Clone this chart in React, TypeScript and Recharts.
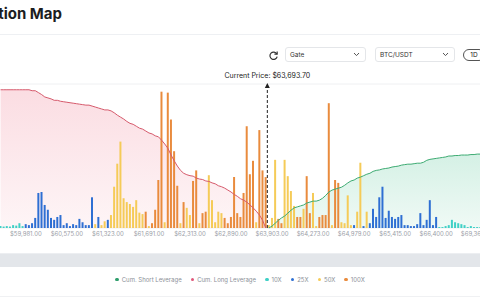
import React from "react";
import {
  Area,
  Bar,
  CartesianGrid,
  Cell,
  ComposedChart,
  Line,
  ReferenceLine,
  XAxis,
  YAxis,
} from "recharts";

const FONT = "Inter, 'Noto Sans', Roboto, sans-serif";

// liquidation volume per price bucket (low price -> high price)
const liqVolume = [
  2, 1.5, 2, 1.5, 3, 2.5, 5, 2,
  4, 3, 5, 10.5, 36.5, 37.5, 24, 19, 10.5, 8.5, 11.5, 13.5, 3, 5, 2, 4, 3, 9.5, 6, 3, 3, 32,
  4, 11.5, 3, 7, 8.5, 13.5, 43, 67, 90, 31, 27, 25, 22, 29, 16, 14.5, 17, 2, 5, 19,
  50, 142, 6, 141, 113, 80, 44, 5, 27, 21, 13.5, 49, 60, 5, 15.5, 17, 55, 29, 6, 17,
  15.5, 10.5, 5, 11.5, 53, 15.5, 11.5, 36.5, 106, 56, 70, 6, 102, 60, 53,
  3, 10.5, 71, 9.5, 5, 71, 54, 38.5, 23, 11.5, 11.5, 20, 54, 15.5, 36.5, 2, 11.5, 13.5, 13.5,
  130, 3, 50, 47, 6, 5, 34, 3, 3, 17, 68, 2, 17, 5, 20, 11.5, 32, 43, 10.5, 18,
  11.5, 9.5, 11.5, 13.5, 3, 3, 2, 2, 4, 15.5, 3, 8.5, 29, 3, 11.5,
  1, 1, 2, 3, 8.5, 6, 5, 4, 3, 1, 2, 1, 1, 1,
];

// leverage tier of each bucket
const leverage = [
  10, 10, 10, 10, 10, 10, 10, 10,
  25, 25, 25, 25, 25, 25, 25, 25, 25, 25, 25, 25, 25, 25, 25, 25, 25, 25, 25, 25, 25, 25,
  50, 25, 50, 50, 25, 50, 50, 50, 50, 50, 50, 50, 50, 50, 50, 50, 100, 50, 100, 100,
  100, 100, 50, 100, 100, 100, 100, 50, 100, 50, 50, 100, 100, 50, 100, 100, 50, 50, 50, 50,
  50, 100, 100, 100, 100, 100, 100, 100, 100, 100, 100, 50, 100, 100, 100,
  50, 50, 50, 100, 100, 50, 50, 50, 50, 100, 100, 50, 100, 100, 50, 50, 100, 100, 100,
  100, 50, 100, 100, 50, 50, 50, 50, 25, 50, 50, 25, 50, 25, 25, 25, 25, 25, 25, 25,
  25, 25, 25, 25, 25, 25, 25, 25, 25, 25, 25, 25, 25, 25, 25,
  10, 10, 10, 10, 10, 10, 10, 10, 10, 10, 10, 10, 10, 10,
];

// cumulative long liquidations, from the lowest bucket up to the current price
const cumLong = [
  144, 144, 144, 144, 144, 144, 144, 144, 144, 144,
  143, 143, 141, 139, 136.5, 135.5, 134.5, 133, 133, 132,
  131.5, 131, 130.5, 130, 129.5, 129, 128.5, 128, 128, 127,
  126, 125, 124, 123, 123, 122, 120, 117.5, 115.5, 113.5,
  111, 109, 108, 106, 104, 103, 101, 99, 98, 96,
  95, 91.5, 87.5, 83, 76, 70, 64.5, 60, 57, 55.5,
  54.5, 54, 52, 51, 50.5, 49, 48.5, 47, 46, 44,
  43, 41.5, 39.5, 37.5, 35, 33, 30.5, 29, 27, 24,
  21, 17.5, 13.5, 8, 0,
];

// cumulative short liquidations, from the current price upwards
const cumShort = [
  0, 2, 5, 8, 10.5, 12.5, 15.5, 18.5, 21, 22,
  23, 24, 26, 27, 28, 28, 29, 31, 34, 37.5,
  39.5, 40.5, 41.5, 42.5, 44.5, 47, 49, 50, 52, 53,
  54.5, 56, 57, 59, 60, 60.5, 61.5, 62, 62.5, 63.5,
  64, 64.5, 65.5, 66, 66.5, 66.5, 67, 67.5, 67.5, 68.5,
  70.5, 71.5, 72, 72.5, 73, 73.5, 74, 75, 75, 75.5,
  75.5, 76, 76, 76, 76.5, 76.5, 77, 77,
];

const priceTicks = [
  "$59,981.00", "$60,575.00", "$61,323.00", "$61,691.00", "$62,313.00", "$62,890.00",
  "$63,903.00", "$64,273.00", "$64,979.00", "$65,415.00", "$66,400.00", "$69,363.00",
];
const TICK_OFFSET = 8;
const TICK_STEP = 13;

const CURRENT_PRICE = "$63,693.70";
const SHORT_START = cumLong.length;

const LEVERAGE_COLORS: Record<number, string> = {
  10: "#3fd0c6",
  25: "#2e6fd3",
  50: "#f5cb58",
  100: "#e98b3d",
};

const legendItems = [
  { label: "Cum. Short Leverage", color: "#2f9e6c" },
  { label: "Cum. Long Leverage", color: "#e0577a" },
  { label: "10X", color: LEVERAGE_COLORS[10] },
  { label: "25X", color: LEVERAGE_COLORS[25] },
  { label: "50X", color: LEVERAGE_COLORS[50] },
  { label: "100X", color: LEVERAGE_COLORS[100] },
];

const rows = liqVolume.map((volume, idx) => ({
  idx,
  volume,
  lev: leverage[idx],
  cumLong: idx < SHORT_START ? cumLong[idx] : null,
  cumShort: idx >= SHORT_START ? cumShort[idx - SHORT_START] ?? null : null,
}));

function formatTick(i: number) {
  const k = (i - TICK_OFFSET) / TICK_STEP;
  return Number.isInteger(k) ? priceTicks[k] ?? "" : "";
}

function PriceMarker(props: any) {
  const { viewBox } = props;
  if (!viewBox) return null;
  const x = viewBox.x;
  const y = viewBox.y;
  return (
    <g>
      <polygon points={`${x - 2.5},${y + 4} ${x},${y - 1} ${x + 2.5},${y + 4}`} fill="#222" />
      <text x={x} y={y - 6.5} textAnchor="middle" fontSize={7} fill="#222" fontFamily={FONT}>
        Current Price: {CURRENT_PRICE}
      </text>
    </g>
  );
}

function Chevron() {
  return (
    <svg width="7" height="5" viewBox="0 0 7 5">
      <polyline points="1,1 3.5,3.6 6,1" fill="none" stroke="#555" strokeWidth="1" />
    </svg>
  );
}

function Select({ left, width, text }: { left: number; width: number; text: string }) {
  return (
    <div
      style={{
        position: "absolute",
        left,
        top: 47,
        width,
        height: 15,
        boxSizing: "border-box",
        border: "1px solid #e4e6e9",
        borderRadius: 3,
        display: "flex",
        alignItems: "center",
        justifyContent: "space-between",
        padding: "0 5px 0 4px",
        fontSize: 6.5,
        color: "#333",
      }}
    >
      <span>{text}</span>
      <Chevron />
    </div>
  );
}

export default function App() {
  return (
    <div
      style={{
        position: "fixed",
        left: 0,
        top: 0,
        width: 480,
        height: 300,
        overflow: "hidden",
        background: "#fff",
        fontFamily: FONT,
      }}
    >
      <div
        style={{
          position: "absolute",
          right: 418,
          top: 5,
          whiteSpace: "nowrap",
          fontSize: 15,
          lineHeight: "18px",
          fontWeight: 700,
          color: "#1c1d21",
        }}
      >
        Liquidation Map
      </div>
      <div style={{ position: "absolute", left: 0, top: 34, width: 480, height: 1, background: "#eef0f3" }} />

      <svg style={{ position: "absolute", left: 268, top: 50 }} width="11" height="11" viewBox="0 0 12 12">
        <path d="M9.6 4.3A4 4 0 1 0 10 7.2" fill="none" stroke="#333" strokeWidth="1.3" />
        <polyline points="10,1.6 10,4.6 7,4.6" fill="none" stroke="#333" strokeWidth="1.3" />
      </svg>
      <Select left={285} width={81} text="Gate" />
      <Select left={375} width={80} text="BTC/USDT" />
      <div
        style={{
          position: "absolute",
          left: 463,
          top: 49,
          width: 22,
          height: 12,
          boxSizing: "border-box",
          border: "1px solid #555",
          borderRadius: 7,
          fontSize: 6.5,
          lineHeight: "10px",
          textAlign: "center",
          color: "#222",
        }}
      >
        1D
      </div>

      <div style={{ position: "absolute", left: -21, top: 60 }}>
        <ComposedChart
          width={540}
          height={200}
          data={rows}
          margin={{ top: 24, right: 37, bottom: 0, left: 20 }}
          barCategoryGap="15%"
        >
          <defs>
            <linearGradient id="longFill" x1="0" y1="0" x2="0" y2="1">
              <stop offset="0%" stopColor="#f6b3bf" stopOpacity={0.75} />
              <stop offset="100%" stopColor="#f6b3bf" stopOpacity={0.22} />
            </linearGradient>
            <linearGradient id="shortFill" x1="0" y1="0" x2="0" y2="1">
              <stop offset="0%" stopColor="#7fd3b0" stopOpacity={0.55} />
              <stop offset="100%" stopColor="#7fd3b0" stopOpacity={0.2} />
            </linearGradient>
          </defs>
          <CartesianGrid vertical={false} stroke="#eff0f2" />
          <XAxis
            dataKey="idx"
            type="category"
            interval={0}
            axisLine={false}
            tickLine={false}
            tickSize={4}
            tickMargin={0}
            height={32}
            tickFormatter={formatTick}
            tick={{ fontSize: 6, fill: "#9ba0a8", fontFamily: FONT }}
          />
          <YAxis yAxisId="vol" hide domain={[0, 150]} ticks={[0, 30, 60, 90, 120, 150]} />
          <YAxis yAxisId="cum" hide orientation="right" domain={[0, 150]} />
          <Area
            yAxisId="cum"
            dataKey="cumLong"
            type="linear"
            stroke="none"
            fill="url(#longFill)"
            isAnimationActive={false}
          />
          <Area
            yAxisId="cum"
            dataKey="cumShort"
            type="linear"
            stroke="none"
            fill="url(#shortFill)"
            isAnimationActive={false}
          />
          <Bar yAxisId="vol" dataKey="volume" isAnimationActive={false}>
            {rows.map((r) => (
              <Cell key={r.idx} fill={LEVERAGE_COLORS[r.lev]} />
            ))}
          </Bar>
          <Line
            yAxisId="cum"
            dataKey="cumLong"
            type="linear"
            stroke="#d65a6c"
            strokeWidth={1}
            dot={false}
            activeDot={false}
            isAnimationActive={false}
          />
          <Line
            yAxisId="cum"
            dataKey="cumShort"
            type="linear"
            stroke="#3dab72"
            strokeWidth={1}
            dot={false}
            activeDot={false}
            isAnimationActive={false}
          />
          <ReferenceLine
            yAxisId="vol"
            x={SHORT_START}
            position="start"
            stroke="#222"
            strokeDasharray="3 2"
            strokeWidth={1}
            label={(p: any) => <PriceMarker {...p} />}
          />
        </ComposedChart>
      </div>

      <div
        style={{
          position: "absolute",
          left: 0,
          top: 253,
          width: 480,
          height: 13,
          background: "#e3e6ea",
          borderTop: "1px solid #eceef1",
        }}
      />

      <div
        style={{
          position: "absolute",
          left: 0,
          top: 276,
          width: 480,
          display: "flex",
          justifyContent: "center",
          gap: 9,
          fontSize: 6,
          color: "#8b9098",
        }}
      >
        {legendItems.map((item) => (
          <div key={item.label} style={{ display: "flex", alignItems: "center", gap: 3 }}>
            <span
              style={{
                width: 3.5,
                height: 3.5,
                borderRadius: "50%",
                background: item.color,
                display: "inline-block",
              }}
            />
            <span>{item.label}</span>
          </div>
        ))}
      </div>
      <div style={{ position: "absolute", left: 0, top: 296, width: 480, height: 1, background: "#f0f1f3" }} />
    </div>
  );
}
